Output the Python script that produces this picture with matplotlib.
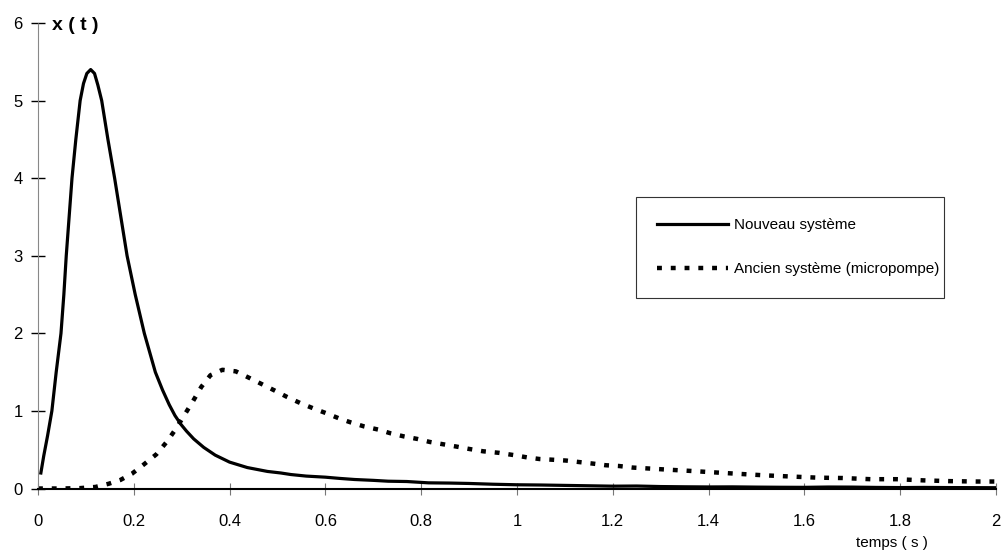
import numpy as np
from matplotlib import pyplot as plt

# Données
t_nouveau = [0.006, 0.012, 0.020, 0.029, 0.038, 0.048, 0.054, 0.059, 0.065, 0.071,
             0.079, 0.088, 0.095, 0.102, 0.110, 0.118, 0.125, 0.133, 0.146, 0.160,
             0.173, 0.186, 0.203, 0.222, 0.245, 0.260, 0.274, 0.286, 0.298, 0.310,
             0.325, 0.346, 0.370, 0.400, 0.437, 0.479, 0.507, 0.528, 0.560, 0.600,
             0.630, 0.661, 0.700, 0.731, 0.770, 0.815, 0.860, 0.900, 0.950, 1.000,
             1.050, 1.100, 1.150, 1.200, 1.250, 1.300, 1.350, 1.400, 1.450, 1.500,
             1.550, 1.600, 1.650, 1.700, 1.750, 1.800, 1.850, 1.900, 1.950, 2.000]
x_nouveau = [0.20, 0.42, 0.68, 1.00, 1.50, 2.00, 2.50, 3.00, 3.50, 4.00,
             4.50, 5.00, 5.22, 5.35, 5.40, 5.35, 5.20, 5.00, 4.50, 4.00,
             3.50, 3.00, 2.50, 2.00, 1.50, 1.27, 1.08, 0.94, 0.83, 0.74,
             0.64, 0.53, 0.43, 0.34, 0.27, 0.22, 0.20, 0.18, 0.16, 0.146,
             0.13, 0.116, 0.105, 0.094, 0.09, 0.073, 0.07, 0.065, 0.055, 0.048,
             0.045, 0.040, 0.035, 0.030, 0.032, 0.025, 0.022, 0.020, 0.021, 0.018,
             0.016, 0.015, 0.019, 0.018, 0.014, 0.012, 0.014, 0.012, 0.011, 0.010]

t_ancien = [0.000, 0.050, 0.088, 0.120, 0.147, 0.172, 0.196, 0.221, 0.247, 0.270,
            0.289, 0.306, 0.324, 0.341, 0.360, 0.385, 0.413, 0.443, 0.469, 0.495,
            0.520, 0.548, 0.576, 0.602, 0.630, 0.654, 0.681, 0.710, 0.737, 0.765,
            0.791, 0.818, 0.846, 0.874, 0.900, 0.929, 0.962, 0.994, 1.022, 1.047,
            1.077, 1.103, 1.131, 1.160, 1.185, 1.213, 1.241, 1.269, 1.296, 1.323,
            1.353, 1.380, 1.406, 1.460, 1.516, 1.570, 1.626, 1.680, 1.738, 1.792,
            1.848, 1.903, 1.960, 2.000]
x_ancien = [0.000, 0.000, 0.005, 0.020, 0.060, 0.110, 0.190, 0.310, 0.440, 0.610,
            0.780, 0.950, 1.130, 1.310, 1.460, 1.530, 1.510, 1.420, 1.340, 1.260,
            1.180, 1.100, 1.030, 0.970, 0.900, 0.850, 0.800, 0.760, 0.710, 0.670,
            0.640, 0.600, 0.570, 0.540, 0.510, 0.480, 0.460, 0.430, 0.400, 0.380,
            0.370, 0.360, 0.340, 0.320, 0.300, 0.290, 0.270, 0.260, 0.250, 0.240,
            0.230, 0.220, 0.210, 0.190, 0.170, 0.155, 0.140, 0.135, 0.120, 0.120,
            0.105, 0.095, 0.090, 0.090]

xticks = [0, 0.2, 0.4, 0.6, 0.8, 1, 1.2, 1.4, 1.6, 1.8, 2]
xtick_labels = ["0", "0.2", "0.4", "0.6", "0.8", "1", "1.2", "1.4", "1.6", "1.8", "2"]
yticks = [0, 1, 2, 3, 4, 5, 6]

plt.rcParams['font.family'] = ['Liberation Sans Narrow', 'Liberation Sans', 'DejaVu Sans']

fig = plt.figure(figsize=(10.05, 5.56), dpi=100)
ax = fig.add_axes([0.0378, 0.1214, 0.9532, 0.8372])

ax.plot(t_nouveau, x_nouveau, color="black", lw=2.3, label="Nouveau système",
        solid_joinstyle="round")
ax.plot(t_ancien, x_ancien, color="black", lw=3.2, linestyle=(0, (1.1, 2.0)),
        label="Ancien système (micropompe)")

ax.set_xlim(0, 2)
ax.set_ylim(0, 6)
ax.set_xticks(xticks)
ax.set_xticklabels(xtick_labels)
ax.set_yticks(yticks)

for s in ["top", "right"]:
    ax.spines[s].set_visible(False)
ax.spines["left"].set_color("#888888")
ax.spines["left"].set_linewidth(0.8)
ax.spines["left"].set_linestyle((0, (1, 1)))
ax.spines["bottom"].set_color("black")
ax.spines["bottom"].set_linewidth(1.5)

ax.tick_params(axis="y", direction="inout", length=10, width=1, color="black",
               labelsize=12, pad=6)
ax.tick_params(axis="x", direction="inout", length=8, width=0.8, color="#777777",
               labelsize=12, pad=14)

fig.text(52 / 1005, 1 - 25 / 556, "x ( t )", fontsize=14, fontweight="bold",
         family=["Liberation Sans", "DejaVu Sans"], ha="left", va="center")
fig.text(892 / 1005, 1 - 543 / 556, "temps ( s )", fontsize=11,
         ha="center", va="center")

leg = ax.legend(loc="upper left",
                bbox_to_anchor=(636 / 1005, 1 - 299 / 556, 308 / 1005, 102 / 556),
                bbox_transform=fig.transFigure, mode="expand", borderaxespad=0,
                fontsize=11, handlelength=4.6, handletextpad=0.4,
                labelspacing=1.95, borderpad=1.4, fancybox=False, framealpha=1)
leg.get_frame().set_edgecolor("#333333")
leg.get_frame().set_linewidth(0.8)

fig.savefig("out.png", dpi=100)
